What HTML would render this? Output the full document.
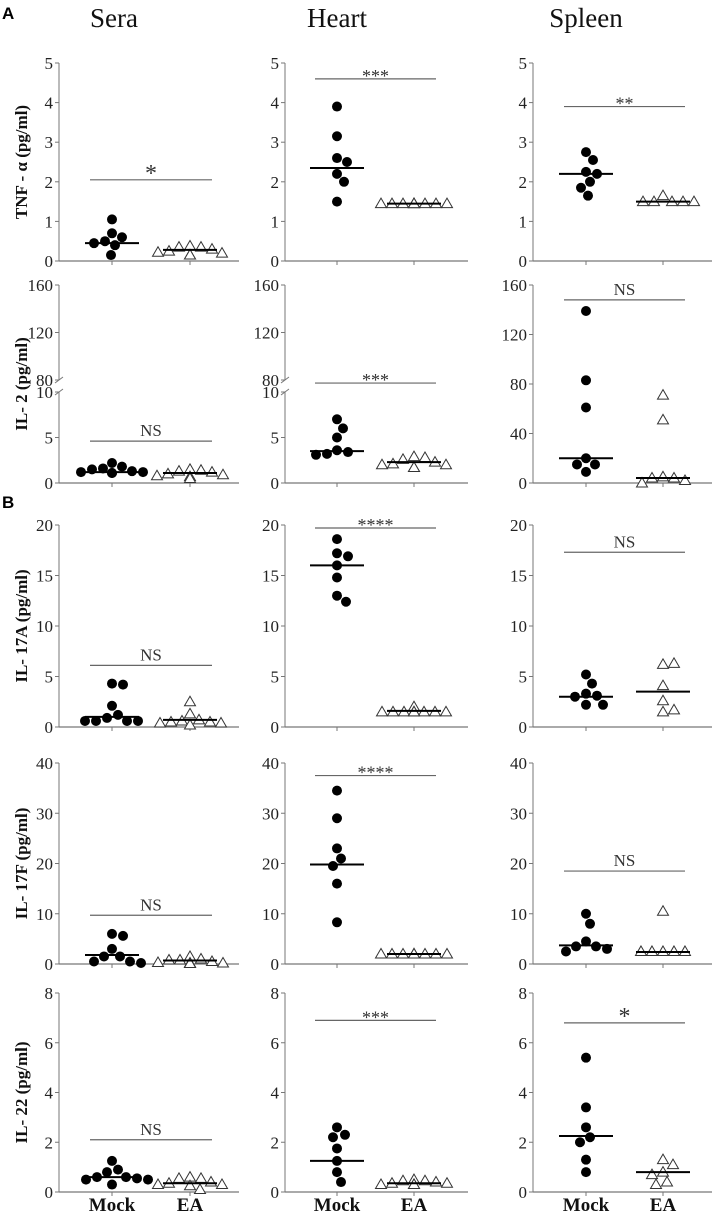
<!DOCTYPE html>
<html><head><meta charset="utf-8"><style>
html,body{margin:0;padding:0;background:#fff;}
svg{display:block;font-family:"Liberation Serif",serif;}
</style></head><body>
<svg id="fig" width="724" height="1214" viewBox="0 0 724 1214"></svg>
<script>
// ---- data arrays ----
const groups = ["Mock","EA"];
const columns = ["Sera","Heart","Spleen"];
const rowTitles = ["TNF - \u03b1 (pg/ml)","IL- 2 (pg/ml)","IL- 17A (pg/ml)","IL- 17F (pg/ml)","IL- 22 (pg/ml)"];
const rowTicks = [[0,1,2,3,4,5],[0,5,10,80,120,160],[0,5,10,15,20],[0,10,20,30,40],[0,2,4,6,8]];
const spleenIL2Ticks = [0,40,80,120,160];

const mockTNF = [[1.05,0.7,0.6,0.5,0.45,0.4,0.15],[3.9,3.15,2.6,2.5,2.2,2.0,1.5],[2.75,2.55,2.25,2.2,2.0,1.85,1.65]];
const eaTNF = [[0.38,0.35,0.35,0.3,0.25,0.22,0.2,0.15,0.15],[1.45,1.45,1.45,1.45,1.45,1.45,1.45,1.45,1.45],[1.65,1.5,1.5,1.5,1.5,1.5]];
const medTNF = [[0.45,0.28],[2.35,1.45],[2.2,1.5]];
const sigTNF = [2.05,4.6,3.9];
const sigLabTNF = ["*","***","**"];

const mockIL2 = [[2.2,1.8,1.6,1.5,1.3,1.2,1.2,1.1,1.1],[7,6,5,3.6,3.4,3.2,3.1],[139,83,61,20,15,15,9]];
const eaIL2 = [[1.5,1.4,1.3,1.2,1.0,0.9,0.8,0.7,0.5],[2.9,2.8,2.6,2.3,2.1,2.0,2.0,1.7,1.7],[71,51,5,4,4,2,0]];
const medIL2 = [[1.2,1.1],[3.5,2.3],[20,4]];
const sigIL2 = [4.6,62,148];
const sigLabIL2 = ["NS","***","NS"];

const mockIL17A = [[4.3,4.2,2.1,1.2,0.9,0.6,0.6,0.6,0.6],[18.6,17.2,16.9,16.0,14.8,13.0,12.4],[5.2,4.3,3.3,3.1,3.0,2.2,2.2]];
const eaIL17A = [[2.5,1.3,0.7,0.6,0.5,0.5,0.4,0.4,0.2],[2.0,1.5,1.5,1.5,1.5,1.5,1.5,1.5,1.5],[6.2,6.3,4.1,2.6,1.5,1.7]];
const medIL17A = [[1.0,0.7],[16.0,1.6],[3.0,3.5]];
const sigIL17A = [6.1,19.7,17.3];
const sigLabIL17A = ["NS","****","NS"];

const mockIL17F = [[6.0,5.6,3.0,1.5,1.5,0.5,0.5,0.2],[34.5,29,23,21,19.5,16,8.3],[10,8,4.5,3.5,3.5,3,2.5]];
const eaIL17F = [[1.5,1.0,0.8,0.8,0.5,0.3,0.2,0.2,0.1],[2,2,2,2,2,2,2,2,2],[10.5,2.5,2.5,2.5,2.5,2.5]];
const medIL17F = [[1.8,0.7],[19.8,2.0],[3.7,2.4]];
const sigIL17F = [9.7,37.5,18.5];
const sigLabIL17F = ["NS","****","NS"];

const mockIL22 = [[1.25,0.9,0.8,0.6,0.6,0.55,0.5,0.5,0.3],[2.6,2.3,2.2,1.75,1.25,0.8,0.4],[5.4,3.4,2.6,2.2,2.0,1.3,0.8]];
const eaIL22 = [[0.6,0.55,0.55,0.4,0.35,0.3,0.3,0.25,0.1],[0.5,0.45,0.45,0.4,0.35,0.35,0.3,0.3,0.3],[1.3,1.1,0.8,0.7,0.4,0.3]];
const medIL22 = [[0.6,0.35],[1.25,0.35],[2.25,0.8]];
const sigIL22 = [2.1,6.9,6.8];
const sigLabIL22 = ["NS","***","*"];

const mockAll = [mockTNF,mockIL2,mockIL17A,mockIL17F,mockIL22];
const eaAll = [eaTNF,eaIL2,eaIL17A,eaIL17F,eaIL22];
const medAll = [medTNF,medIL2,medIL17A,medIL17F,medIL22];
const sigAll = [sigTNF,sigIL2,sigIL17A,sigIL17F,sigIL22];
const sigLabAll = [sigLabTNF,sigLabIL2,sigLabIL17A,sigLabIL17F,sigLabIL22];
const rowMax = [5,160,20,40,8];

// ---- layout ----
const colAxisX = [59,285,533], colEndX = [239,468,712];
const colTickX = [[112,190],[337,414],[586,663]];
const rowTop = [63,285,525,763,993], rowBot = [261,483,727,964,1192];
const NS = "http://www.w3.org/2000/svg";
const svg = document.getElementById('fig');
function mk(tag, attrs, parent){ const e=document.createElementNS(NS,tag); for(const k in attrs) e.setAttribute(k,attrs[k]); (parent||svg).appendChild(e); return e; }

function makeScale(r,c){
  const t=rowTop[r], b=rowBot[r];
  if(r===1 && c<2){
    return v=>{ if(v<=10) return b-v*(b-392)/10; if(v<80) return 392-(v-10)*12/70; return 380-(v-80)*(380-t)/80; };
  }
  return v=> b - v*(b-t)/rowMax[r];
}

columns.forEach((name,c)=>{
  const h=mk('text',{x:colTickX[c][0]+ (c===0?2:0),y:27,'font-size':27,'text-anchor':'middle',fill:'#111'});
  
  
  h.textContent=name;
});
[["A",13],["B",502]].forEach(([l,y])=>{
  const e=mk('text',{x:2,y:y+6,'font-size':17,'font-weight':'bold','font-family':'Liberation Sans, sans-serif',fill:'#000'});
  
  
  e.textContent=l;
});

function beeswarm(vals, sy, cx, r){
  const placed=[]; const out=[];
  vals.forEach(v=>{
    const y=sy(v); let best=null;
    for(let k=0;k<40;k++){
      const offs = k===0?[0]:[k*1.0,-k*1.0];
      for(const o of offs){
        const x=cx+o;
        if(placed.every(p=>Math.hypot(p[0]-x,p[1]-y)>=2*r+0.5)){best=x;break;}
      }
      if(best!==null) break;
    }
    if(best===null) best=cx;
    placed.push([best,y]); out.push([best,y]);
  });
  return out;
}

for(let r=0;r<5;r++){
  const yc=(rowTop[r]+rowBot[r])/2;
  const tt=mk('text',{x:0,y:0,'font-size':17,'font-weight':'bold','text-anchor':'middle',fill:'#111',transform:`translate(27,${yc}) rotate(-90)`});
  
  
  tt.textContent=rowTitles[r];
  for(let c=0;c<3;c++){
    const g=mk('g',{});
    
    
    const sy=makeScale(r,c);
    const ax=colAxisX[c], ex=colEndX[c], b=rowBot[r], t=rowTop[r];
    const broken = (r===1 && c<2);
    if(broken){
      mk('line',{x1:ax,y1:b,x2:ax,y2:392,stroke:'#777','stroke-width':1},g);
      mk('line',{x1:ax,y1:380,x2:ax,y2:t,stroke:'#777','stroke-width':1},g);
      mk('line',{x1:ax-4,y1:395,x2:ax+4,y2:389,stroke:'#777','stroke-width':1},g);
      mk('line',{x1:ax-4,y1:383,x2:ax+4,y2:377,stroke:'#777','stroke-width':1},g);
    } else {
      mk('line',{x1:ax,y1:b,x2:ax,y2:t,stroke:'#777','stroke-width':1},g);
    }
    mk('line',{x1:ax,y1:b,x2:ex,y2:b,stroke:'#777','stroke-width':1.2},g);
    const ticks = (r===1 && c===2)? spleenIL2Ticks : rowTicks[r];
    ticks.forEach(v=>{
      const y=sy(v);
      mk('line',{x1:ax-4,y1:y,x2:ax,y2:y,stroke:'#777','stroke-width':1},g);
      const tl=mk('text',{x:ax-6,y:y+6,'font-size':17,'text-anchor':'end',fill:'#222'},g);
      
      
      tl.textContent=v;
    });
    colTickX[c].forEach(x=>mk('line',{x1:x,y1:b,x2:x,y2:b+4,stroke:'#777','stroke-width':1},g));
    const sv=sigAll[r][c], syv=sy(sv);
    const sl=mk('line',{x1:colTickX[c][0]-22,y1:syv,x2:colTickX[c][1]+22,y2:syv,stroke:'#666','stroke-width':1.2},g);
    
    
    const lab=sigLabAll[r][c];
    const st=mk('text',{x:(colTickX[c][0]+colTickX[c][1])/2,y:lab==='NS'?syv-5:(lab==='*'?syv+1:syv+3),'font-size':lab==='NS'?17:(lab==='*'?24:18),'text-anchor':'middle',fill:'#333'},g);
    
    
    st.textContent=lab;
    const mp=beeswarm(mockAll[r][c],sy,colTickX[c][0],5);
    mp.forEach(([x,y])=>{
      const e=mk('circle',{cx:x,cy:y,r:5,fill:'#000'},g);
      
      
    });
    const ep=beeswarm(eaAll[r][c],sy,colTickX[c][1],5);
    ep.forEach(([x,y])=>{
      const e=mk('polygon',{points:`${x},${y-5.5} ${x-5.5},${y+4} ${x+5.5},${y+4}`,fill:'#fff',stroke:'#333','stroke-width':1},g);
      
      
    });
    medAll[r][c].forEach((m,i)=>{
      const y=sy(m), cx=colTickX[c][i];
      const ml=mk('line',{x1:cx-27,y1:y,x2:cx+27,y2:y,stroke:'#000','stroke-width':2},g);
      
      
    });
    if(r===4){
      groups.forEach((gname,i)=>{
        const xl=mk('text',{x:colTickX[c][i],y:1211,'font-size':19,'font-weight':'bold','text-anchor':'middle',fill:'#111'});
        
        
        xl.textContent=gname;
      });
    }
  }
}
</script>
</body></html>
